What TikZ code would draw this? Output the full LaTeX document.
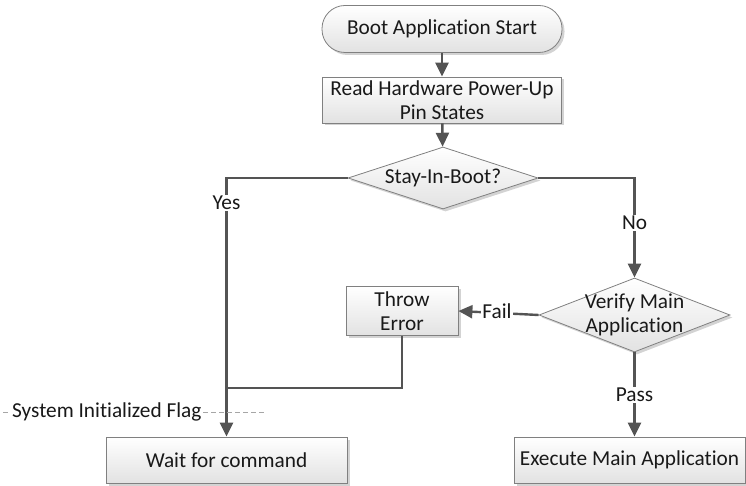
\documentclass[tikz,border=0pt]{standalone}
\usepackage{fontspec}
\setmainfont{Carlito}[RawFeature={-liga}]
\usetikzlibrary{shapes.geometric,arrows.meta,shadows}
\definecolor{linegray}{HTML}{545454}
\definecolor{edgegray}{HTML}{808080}
\definecolor{fillbot}{HTML}{E2E2E2}
\tikzset{
  txt/.style={font=\fontsize{21.3}{23.5}\selectfont, align=center, inner sep=0pt, text=black!90},
  shapebase/.style={txt, draw=edgegray, line width=0.8pt, top color=white, bottom color=fillbot,
    drop shadow={shadow xshift=2.5pt, shadow yshift=-2.5pt, opacity=0.35, fill=gray}},
  procbox/.style={shapebase, rectangle},
  termbox/.style={shapebase, rectangle, rounded corners=23pt},
  decision/.style={shapebase, diamond},
  flow/.style={draw=linegray, line width=2.4pt, -{Triangle[length=14pt,width=13pt]}},
  plain/.style={draw=linegray, line width=2.4pt},
  edgelabel/.style={txt, fill=white, inner sep=1pt},
}
\begin{document}
\begin{tikzpicture}[x=1pt,y=-1pt]
\useasboundingbox (0,0) rectangle (746,486);

% process shapes
\node[termbox, minimum width=240pt, minimum height=47pt] (start) at (442,29) {Boot Application Start};
\node[procbox, minimum width=239pt, minimum height=46pt] (read) at (442,100) {Read Hardware Power-Up\\Pin States};
\node[decision, minimum width=190pt, minimum height=62pt, label={[txt]center:Stay-In-Boot?}] (stay) at (443,178) {};
\node[decision, minimum width=191pt, minimum height=74pt, label={[txt]center:Verify Main\\Application}] (verify) at (634.5,315) {};
\node[procbox, minimum width=112pt, minimum height=49pt] (throw) at (402,311) {Throw\\Error};
\node[procbox, minimum width=241pt, minimum height=46pt] (wait) at (226.5,460) {Wait for command};
\node[procbox, minimum width=231pt, minimum height=46pt] (exec) at (629.5,460) {Execute Main Application};

\coordinate (join) at (226.5,388);

% connectors
\draw[flow] (start) -- (read);
\draw[flow] (read) -- (stay);
\draw[flow] (stay.west) -| (wait.north);
\draw[flow] (stay.east) -| (verify.north);
\draw[flow] (verify.west) -- (throw.east);
\draw[plain] (throw.south) |- (join);
\draw[flow] (verify.south) -- (verify.south |- exec.north);

% edge labels
\node[edgelabel] (yes) at (226.5,203) {Yes};
\node[edgelabel] (no) at (634.5,223) {No};
\node[edgelabel] (fail) at (497,311) {Fail};
\node[edgelabel] (pass) at (634.5,395) {Pass};

% annotation
\coordinate (flagL) at (3,412);
\coordinate (flagR) at (265,412);
\draw[gray!70, dashed, dash pattern=on 5pt off 3pt, line width=0.8pt] (flagL) -- (flagR);
\node[edgelabel, anchor=west] (flag) at (11,412) {System Initialized Flag};
\end{tikzpicture}
\end{document}
